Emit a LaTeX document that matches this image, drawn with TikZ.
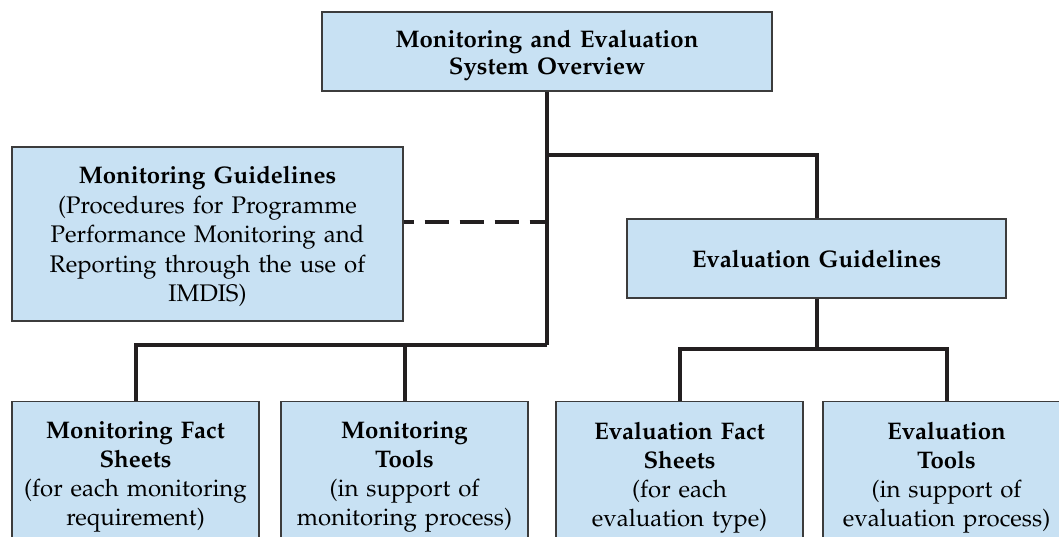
\documentclass[tikz,border=0pt]{standalone}
\usepackage[T1]{fontenc}
\usepackage{mathpazo}
\definecolor{boxfill}{RGB}{200,225,243}
\definecolor{boxline}{RGB}{60,60,60}
\definecolor{connline}{RGB}{35,31,32}
\newcommand{\boxfont}[1]{\fontsize{24}{#1}\selectfont\spaceskip=0.34em plus 0.1em minus 0.05em\relax}
\begin{document}
\begin{tikzpicture}[x=1pt,y=-1pt,
  box/.style={draw=boxline, line width=1.3pt, fill=boxfill, inner sep=0pt,
    align=center, font=\boxfont{29}},
  leafbox/.style={box, text width=247pt, inner ysep=20.5pt, anchor=north},
  conn/.style={line width=4pt, draw=connline},
  dconn/.style={conn, dash pattern=on 24pt off 11pt, dash phase=14pt},
]
\useasboundingbox (0,0) rectangle (1059,536);
\clip (0,0) rectangle (1059,536);
\node[box, minimum width=450pt, minimum height=79pt, font=\boxfont{27.5}] (top) at (547,51.5)
  {\rule{0pt}{25pt}\textbf{Monitoring and Evaluation}\\\textbf{System Overview}};
\node[box, minimum width=391pt, minimum height=174pt, font=\boxfont{29.5}] (mg) at (207.5,234)
  {\rule{0pt}{23pt}\textbf{Monitoring Guidelines}\\(Procedures for Programme\\Performance Monitoring and\\Reporting through the use of\\IMDIS)};
\node[box, minimum width=379pt, minimum height=79pt] (eg) at (816.5,258.5)
  {\textbf{Evaluation Guidelines}};
\node[leafbox] (mfs) at (135.5,401)
  {\textbf{Monitoring Fact}\\\textbf{Sheets}\\(for each monitoring\\requirement)\\[60pt]};
\node[leafbox] (mt) at (404.5,401)
  {\textbf{Monitoring}\\\textbf{Tools}\\(in support of\\monitoring process)\\[60pt]};
\node[leafbox] (efs) at (679.5,401)
  {\textbf{Evaluation Fact}\\\textbf{Sheets}\\(for each\\evaluation type)\\[60pt]};
\node[leafbox] (et) at (946.5,401)
  {\textbf{Evaluation}\\\textbf{Tools}\\(in support of\\evaluation process)\\[60pt]};
\coordinate (j1) at (547,155);
\coordinate (j2) at (547,222);
\coordinate (j3) at (547,345);
\coordinate (j4) at (816.5,349);
\draw[conn] (top.south) -- (j3);
\draw[conn] (j1) -| (eg.north);
\draw[conn] (j3) -| (mfs.north);
\draw[conn] (j3 -| mt.north) -- (mt.north);
\draw[dconn] (mg.east |- j2) -- (j2);
\draw[conn] (eg.south) -- (j4);
\draw[conn] (efs.north) |- (j4) -| (et.north);
\end{tikzpicture}
\end{document}
